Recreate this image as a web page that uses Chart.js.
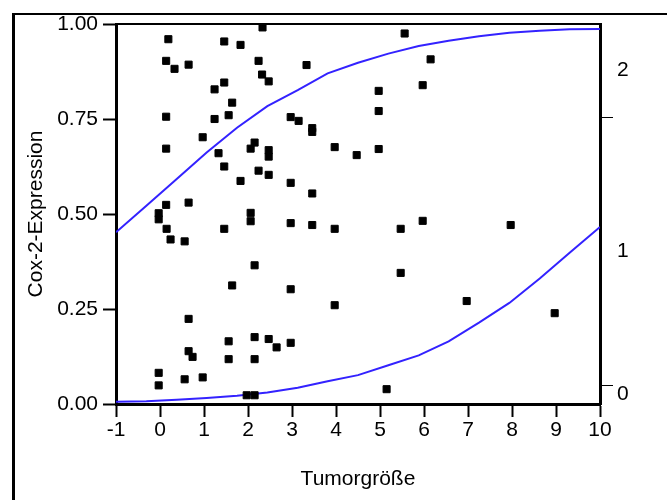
<!DOCTYPE html>
<html>
<head>
<meta charset="utf-8">
<script src="https://cdn.jsdelivr.net/npm/chart.js@4.4.1/dist/chart.umd.min.js"></script>
<style>
  html, body { margin: 0; padding: 0; background: #fff; overflow: hidden; }
  #wrap { width: 667px; height: 500px; }
</style>
</head>
<body>
<div id="wrap"><canvas id="chart" width="667" height="500"></canvas></div>
<script>
const tumorSize = [
  2.33, 0.19, 1.46, 1.83, 0.14, 0.33, 0.65, 2.24, 2.32, 2.47,
  1.46, 1.24, 1.64, 0.14, 1.24, 1.56, 0.97, 0.14, 1.33, 2.15,
  2.06, 2.47, 2.47, 1.46, 2.24, 2.47, 1.83, 0.14, 0.65, -0.03,
  -0.03, 0.15, 0.24, 0.56, 1.46, 2.06, 2.06, 2.15, 1.64, 0.65,
  1.56, 2.15, 2.47, 2.65, 0.65, 0.74, 1.56, 2.15, -0.03, -0.03,
  0.56, 0.97, 1.97, 2.15, 5.56, 3.33, 6.15, 5.97, 4.97, 4.97,
  2.97, 3.15, 3.46, 3.46, 3.97, 4.47, 4.97, 2.97, 3.46, 2.97,
  3.46, 3.97, 5.47, 5.97, 5.47, 2.97, 3.97, 2.97, 5.15, 7.97,
  6.97, 8.97
];
const coxExpression = [
  0.991, 0.960, 0.954, 0.945, 0.903, 0.882, 0.893, 0.903, 0.867, 0.849,
  0.846, 0.828, 0.793, 0.756, 0.750, 0.760, 0.702, 0.672, 0.660, 0.688,
  0.672, 0.668, 0.651, 0.625, 0.614, 0.603, 0.587, 0.524, 0.530, 0.502,
  0.486, 0.461, 0.433, 0.428, 0.461, 0.503, 0.481, 0.365, 0.312, 0.224,
  0.165, 0.176, 0.171, 0.149, 0.139, 0.124, 0.118, 0.118, 0.082, 0.049,
  0.065, 0.070, 0.023, 0.023, 0.975, 0.892, 0.907, 0.839, 0.824, 0.771,
  0.755, 0.745, 0.726, 0.716, 0.676, 0.655, 0.671, 0.582, 0.554, 0.476,
  0.471, 0.461, 0.461, 0.482, 0.345, 0.302, 0.260, 0.161, 0.039, 0.471,
  0.271, 0.239
];

// Stützpunkte der beiden Kurven
const curveX = [-1, -0.31, 0.38, 1.06, 1.75, 2.44, 3.13, 3.81, 4.5, 5.19, 5.88, 6.56, 7.25, 7.94, 8.63, 9.31, 10];
const upperCurve = [0.452, 0.522, 0.592, 0.662, 0.727, 0.784, 0.826, 0.870, 0.898, 0.922, 0.942, 0.956, 0.968, 0.977, 0.982, 0.986, 0.987];
const lowerCurve = [0.006, 0.007, 0.011, 0.016, 0.022, 0.030, 0.043, 0.060, 0.076, 0.102, 0.128, 0.165, 0.214, 0.266, 0.330, 0.398, 0.466];

// Rechte Achse: Grenzen der Stufen und Beschriftungen in der Mitte
const levelBounds = [0.05, 0.755];
const levelLabels = ['0', '1', '2'];

const xTicks = [-1, 0, 1, 2, 3, 4, 5, 6, 7, 8, 9, 10];
const yTicks = [0, 0.25, 0.5, 0.75, 1];

const font = { family: '"Liberation Sans", Arial, sans-serif', size: 21 };
const curveColor = '#3322ff';

// Rahmen um das Bild und obere Linie des Plotbereichs
const framePlugin = {
    id: 'frame',
    afterDraw(chart) {
        const ctx = chart.ctx;
        const a = chart.chartArea;
        ctx.save();
        ctx.strokeStyle = '#000';
        ctx.lineWidth = 3;
        ctx.beginPath();
        ctx.moveTo(13.5, 500);
        ctx.lineTo(13.5, 14);
        ctx.stroke();
        ctx.lineWidth = 2;
        ctx.beginPath();
        ctx.moveTo(12, 14);
        ctx.lineTo(667, 14);
        ctx.stroke();
        ctx.beginPath();
        ctx.moveTo(a.left, a.top);
        ctx.lineTo(a.right, a.top);
        ctx.stroke();
        ctx.restore();
    }
};

const points = tumorSize.map((x, i) => ({ x: x, y: coxExpression[i] }));
const upperPts = curveX.map((x, i) => ({ x: x, y: upperCurve[i] }));
const lowerPts = curveX.map((x, i) => ({ x: x, y: lowerCurve[i] }));

// Ticks der rechten Achse: Grenzen plus Mitten der Bänder
const rightTicks = [];
const edges = [0].concat(levelBounds, [1]);
for (let i = 0; i < levelLabels.length; i++) {
    rightTicks.push({ value: (edges[i] + edges[i + 1]) / 2, label: levelLabels[i] });
    if (i < levelBounds.length) rightTicks.push({ value: levelBounds[i], label: '' });
}

new Chart(document.getElementById('chart'), {
    type: 'scatter',
    data: {
        datasets: [
            {
                data: points,
                pointStyle: 'rect',
                pointRadius: 5,
                borderWidth: 1,
                borderColor: '#000',
                backgroundColor: '#000',
                clip: false,
                order: 1
            },
            {
                type: 'line',
                data: upperPts,
                borderColor: curveColor,
                borderWidth: 2,
                pointRadius: 0,
                fill: false,
                tension: 0,
                order: 2
            },
            {
                type: 'line',
                data: lowerPts,
                borderColor: curveColor,
                borderWidth: 2,
                pointRadius: 0,
                fill: false,
                tension: 0,
                order: 2
            }
        ]
    },
    options: {
        responsive: false,
        animation: false,
        layout: { padding: { top: 24, left: 0, right: 0, bottom: 0 } },
        plugins: {
            legend: { display: false },
            tooltip: { enabled: false }
        },
        scales: {
            x: {
                type: 'linear',
                min: -1,
                max: 10,
                afterBuildTicks: (s) => { s.ticks = xTicks.map(v => ({ value: v })); },
                afterFit: (s) => { s.height = 96; },
                ticks: { color: '#000', font: font, padding: 1, maxRotation: 0, autoSkip: false },
                grid: { drawOnChartArea: false, tickLength: 13, tickWidth: 2, tickColor: '#000' },
                border: { color: '#000', width: 3 },
                title: {
                    display: true,
                    text: 'Tumorgröße',
                    color: '#000',
                    font: font,
                    padding: { top: 0, bottom: 8 }
                }
            },
            y: {
                type: 'linear',
                position: 'left',
                min: 0,
                max: 1,
                afterBuildTicks: (s) => { s.ticks = yTicks.map(v => ({ value: v })); },
                afterFit: (s) => { s.width = 116; },
                ticks: { color: '#000', font: font, padding: 5, callback: (v) => v.toFixed(2) },
                grid: { drawOnChartArea: false, tickLength: 13, tickWidth: 2, tickColor: '#000' },
                border: { color: '#000', width: 3 },
                title: {
                    display: true,
                    text: 'Cox-2-Expression',
                    color: '#000',
                    font: font,
                    padding: { top: 24, bottom: 0 }
                }
            },
            yRight: {
                type: 'linear',
                position: 'right',
                min: 0,
                max: 1,
                afterBuildTicks: (s) => { s.ticks = rightTicks.map(t => ({ value: t.value })); },
                afterFit: (s) => { s.width = 67; },
                ticks: {
                    color: '#000',
                    font: font,
                    padding: 4,
                    callback: (v, i) => rightTicks[i].label
                },
                grid: {
                    drawOnChartArea: false,
                    tickLength: 13,
                    tickWidth: 1,
                    tickColor: (ctx) => rightTicks[ctx.index] && rightTicks[ctx.index].label === '' ? '#000' : 'rgba(0,0,0,0)'
                },
                border: { color: '#000', width: 3 }
            }
        }
    },
    plugins: [framePlugin]
});
</script>
</body>
</html>
